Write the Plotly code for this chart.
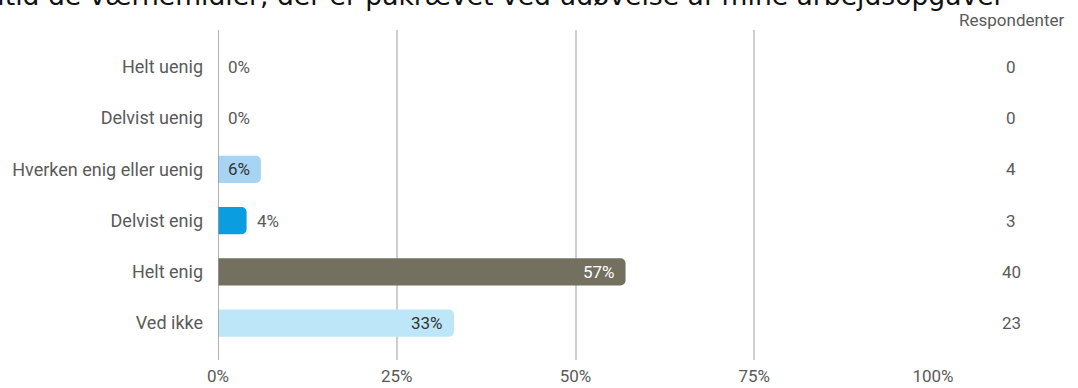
import plotly.graph_objects as go

categories = ["Helt uenig", "Delvist uenig", "Hverken enig eller uenig", "Delvist enig", "Helt enig", "Ved ikke"]
shares = [0.0, 0.0, 0.06, 0.04, 0.57, 0.33]
share_labels = ["0%", "0%", "6%", "4%", "57%", "33%"]
respondents = [0, 0, 4, 3, 40, 23]
bar_colors = ["#a6d4f2", "#a6d4f2", "#a6d4f2", "#0a9ee0", "#737060", "#bde6f9"]
label_inside = [False, False, True, False, True, True]
label_colors = ["#5a5a5a", "#5a5a5a", "#333333", "#5a5a5a", "#ffffff", "#333333"]
tick_vals = [0, 0.25, 0.5, 0.75, 1.0]
tick_text = ["0%", "25%", "50%", "75%", "100%"]
title_text = "Jeg har altid de værnemidler, der er påkrævet ved udøvelse af mine arbejdsopgaver"
col_header = "Respondenter"

ypos = list(range(len(categories)))

fig = go.Figure()
fig.add_trace(go.Bar(
    x=shares, y=ypos, orientation="h",
    marker=dict(color=bar_colors, cornerradius=5, line=dict(width=0)),
    width=0.53, hoverinfo="skip",
))

L, R, T, B = 218, 145, 30, 28
W, H = 1078, 388
pw = W - L - R
ph = H - T - B

FONT = "Roboto"
annotations = []
for i, (v, lab, inside, col) in enumerate(zip(shares, share_labels, label_inside, label_colors)):
    annotations.append(dict(
        x=v, y=i, xref="x", yref="y", text=lab, showarrow=False,
        xanchor="right" if inside else "left", xshift=-9 if inside else 8,
        font=dict(family=FONT, size=17, color=col),
    ))
col_x = (1011 - L) / pw
for i, n in enumerate(respondents):
    annotations.append(dict(
        x=col_x, y=i, xref="paper", yref="y", text=str(n), showarrow=False,
        xanchor="center", font=dict(family=FONT, size=17, color="#5a5a5a"),
    ))
annotations.append(dict(
    x=col_x, y=1 + (T - 20) / ph, xref="paper", yref="paper", text=col_header,
    showarrow=False, xanchor="center", yanchor="middle",
    font=dict(family=FONT, size=17, color="#5a5a5a"),
))
annotations.append(dict(
    x=(1007 - L) / pw, y=1 + (T - 13) / ph, xref="paper", yref="paper", text=title_text,
    showarrow=False, xanchor="right", yanchor="bottom",
    font=dict(family="DejaVu Sans", size=26.6, color="#111111"),
))

fig.update_layout(
    width=W, height=H,
    margin=dict(l=L, r=R, t=T, b=B, pad=0),
    paper_bgcolor="white", plot_bgcolor="white",
    showlegend=False,
    annotations=annotations,
    xaxis=dict(
        range=[0, 1], tickvals=tick_vals, ticktext=tick_text,
        showgrid=True, gridcolor="#cfcfcf", gridwidth=1.5,
        zeroline=False, showline=False, ticks="",
        tickfont=dict(family=FONT, size=17, color="#5a5a5a"),
        ticklabelstandoff=4, fixedrange=True, automargin=False,
    ),
    yaxis=dict(
        range=[5.72, -0.72], tickvals=ypos, ticktext=categories,
        showgrid=False, zeroline=False, showline=False, ticks="",
        tickfont=dict(family=FONT, size=18, color="#5a5a5a"),
        ticklabelstandoff=14, fixedrange=True, automargin=False,
    ),
    shapes=[dict(type="line", xref="x", yref="paper", x0=0, x1=0, y0=0, y1=1,
                 line=dict(color="#9a9a9a", width=1.5), layer="above")],
)

fig.write_html("out.html", config={"displayModeBar": False},
               post_script="document.body.style.margin='0';")
